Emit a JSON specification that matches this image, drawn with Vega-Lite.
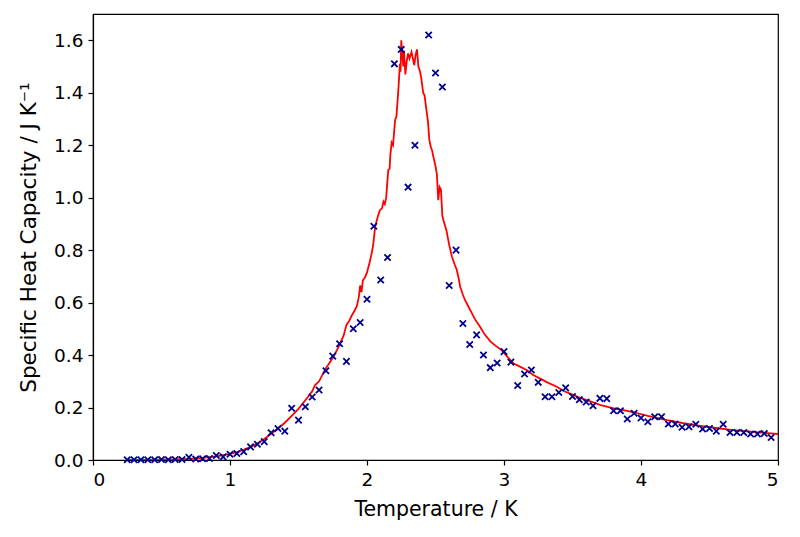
{
  "$schema": "https://vega.github.io/schema/vega-lite/v6.json",
  "width": 685,
  "height": 446,
  "autosize": {"type": "none"},
  "padding": {"left": 93, "top": 14, "right": 22, "bottom": 77},
  "background": "white",
  "config": {
    "view": {"stroke": "black", "strokeWidth": 1.2},
    "axis": {
      "grid": false,
      "domainColor": "black",
      "domainWidth": 1.2,
      "tickColor": "black",
      "tickWidth": 1.2,
      "tickSize": 5,
      "labelColor": "black",
      "labelFont": "DejaVu Sans",
      "labelFontSize": 18.5,
      "labelPadding": 5,
      "titleFont": "DejaVu Sans",
      "titleFontSize": 20.5,
      "titleFontWeight": "normal",
      "titleColor": "black"
    }
  },
  "datasets": {
    "curve": [
      {"T": 0.25, "C": 0.000}, {"T": 0.4, "C": 0.000}, {"T": 0.5, "C": 0.001}, {"T": 0.6, "C": 0.002},
      {"T": 0.7, "C": 0.004}, {"T": 0.8, "C": 0.008}, {"T": 0.9, "C": 0.014}, {"T": 1.0, "C": 0.023},
      {"T": 1.05, "C": 0.030}, {"T": 1.1, "C": 0.039}, {"T": 1.15, "C": 0.050}, {"T": 1.2, "C": 0.063},
      {"T": 1.25, "C": 0.080}, {"T": 1.3, "C": 0.100}, {"T": 1.35, "C": 0.120}, {"T": 1.4, "C": 0.142},
      {"T": 1.45, "C": 0.168}, {"T": 1.5, "C": 0.195}, {"T": 1.55, "C": 0.228}, {"T": 1.6, "C": 0.262},
      {"T": 1.62, "C": 0.285}, {"T": 1.65, "C": 0.300}, {"T": 1.7, "C": 0.350}, {"T": 1.72, "C": 0.365},
      {"T": 1.75, "C": 0.390}, {"T": 1.78, "C": 0.418}, {"T": 1.8, "C": 0.440}, {"T": 1.83, "C": 0.475},
      {"T": 1.85, "C": 0.515}, {"T": 1.87, "C": 0.530}, {"T": 1.89, "C": 0.552}, {"T": 1.91, "C": 0.570},
      {"T": 1.925, "C": 0.585}, {"T": 1.94, "C": 0.620}, {"T": 1.95, "C": 0.665}, {"T": 1.96, "C": 0.640},
      {"T": 1.97, "C": 0.685}, {"T": 1.985, "C": 0.695}, {"T": 2.0, "C": 0.715}, {"T": 2.01, "C": 0.735},
      {"T": 2.02, "C": 0.755}, {"T": 2.035, "C": 0.79}, {"T": 2.045, "C": 0.82}, {"T": 2.06, "C": 0.89},
      {"T": 2.07, "C": 0.91}, {"T": 2.08, "C": 0.93}, {"T": 2.095, "C": 0.952}, {"T": 2.11, "C": 0.96},
      {"T": 2.12, "C": 0.985}, {"T": 2.13, "C": 0.975}, {"T": 2.14, "C": 1.0}, {"T": 2.155, "C": 1.105},
      {"T": 2.165, "C": 1.11}, {"T": 2.17, "C": 1.16}, {"T": 2.18, "C": 1.21}, {"T": 2.19, "C": 1.20},
      {"T": 2.205, "C": 1.295}, {"T": 2.215, "C": 1.31}, {"T": 2.23, "C": 1.42}, {"T": 2.24, "C": 1.51},
      {"T": 2.245, "C": 1.48}, {"T": 2.25, "C": 1.60}, {"T": 2.26, "C": 1.53}, {"T": 2.265, "C": 1.50},
      {"T": 2.27, "C": 1.56}, {"T": 2.28, "C": 1.47}, {"T": 2.29, "C": 1.52}, {"T": 2.30, "C": 1.55},
      {"T": 2.31, "C": 1.53}, {"T": 2.325, "C": 1.555}, {"T": 2.335, "C": 1.53}, {"T": 2.345, "C": 1.505},
      {"T": 2.355, "C": 1.545}, {"T": 2.365, "C": 1.565}, {"T": 2.375, "C": 1.50}, {"T": 2.385, "C": 1.485},
      {"T": 2.395, "C": 1.46}, {"T": 2.41, "C": 1.40}, {"T": 2.42, "C": 1.39}, {"T": 2.435, "C": 1.33},
      {"T": 2.445, "C": 1.29}, {"T": 2.455, "C": 1.22}, {"T": 2.465, "C": 1.195}, {"T": 2.475, "C": 1.18},
      {"T": 2.485, "C": 1.155}, {"T": 2.5, "C": 1.12}, {"T": 2.51, "C": 1.09}, {"T": 2.52, "C": 0.99},
      {"T": 2.53, "C": 1.04}, {"T": 2.54, "C": 1.03}, {"T": 2.55, "C": 0.93}, {"T": 2.56, "C": 0.91},
      {"T": 2.58, "C": 0.875}, {"T": 2.6, "C": 0.82}, {"T": 2.62, "C": 0.775}, {"T": 2.64, "C": 0.745},
      {"T": 2.655, "C": 0.725}, {"T": 2.67, "C": 0.69}, {"T": 2.68, "C": 0.66}, {"T": 2.7, "C": 0.63},
      {"T": 2.715, "C": 0.61}, {"T": 2.74, "C": 0.585}, {"T": 2.765, "C": 0.56}, {"T": 2.79, "C": 0.535},
      {"T": 2.825, "C": 0.508}, {"T": 2.86, "C": 0.478}, {"T": 2.9, "C": 0.452}, {"T": 2.94, "C": 0.435},
      {"T": 2.985, "C": 0.418}, {"T": 3.03, "C": 0.39}, {"T": 3.07, "C": 0.368}, {"T": 3.12, "C": 0.355},
      {"T": 3.165, "C": 0.343}, {"T": 3.21, "C": 0.325}, {"T": 3.26, "C": 0.311}, {"T": 3.32, "C": 0.295},
      {"T": 3.385, "C": 0.279}, {"T": 3.44, "C": 0.262}, {"T": 3.505, "C": 0.248}, {"T": 3.55, "C": 0.238},
      {"T": 3.6, "C": 0.229}, {"T": 3.65, "C": 0.220}, {"T": 3.7, "C": 0.210}, {"T": 3.8, "C": 0.197},
      {"T": 3.9, "C": 0.187}, {"T": 3.945, "C": 0.182}, {"T": 4.05, "C": 0.168}, {"T": 4.19, "C": 0.152},
      {"T": 4.3, "C": 0.141}, {"T": 4.43, "C": 0.130}, {"T": 4.55, "C": 0.122}, {"T": 4.67, "C": 0.114},
      {"T": 4.8, "C": 0.108}, {"T": 4.9, "C": 0.103}, {"T": 5.0, "C": 0.099}
    ],
    "points": [
      {"T": 0.25, "C": 0.001}, {"T": 0.30, "C": 0.001}, {"T": 0.35, "C": 0.001}, {"T": 0.40, "C": 0.001},
      {"T": 0.45, "C": 0.001}, {"T": 0.50, "C": 0.002}, {"T": 0.55, "C": 0.001}, {"T": 0.60, "C": 0.002},
      {"T": 0.65, "C": 0.002}, {"T": 0.70, "C": 0.010}, {"T": 0.75, "C": 0.004}, {"T": 0.80, "C": 0.005},
      {"T": 0.85, "C": 0.006}, {"T": 0.90, "C": 0.017}, {"T": 0.95, "C": 0.012}, {"T": 1.00, "C": 0.022},
      {"T": 1.05, "C": 0.025}, {"T": 1.10, "C": 0.032}, {"T": 1.15, "C": 0.050}, {"T": 1.20, "C": 0.060},
      {"T": 1.25, "C": 0.070}, {"T": 1.30, "C": 0.104}, {"T": 1.35, "C": 0.120}, {"T": 1.40, "C": 0.110},
      {"T": 1.45, "C": 0.197}, {"T": 1.50, "C": 0.152}, {"T": 1.55, "C": 0.203}, {"T": 1.60, "C": 0.240},
      {"T": 1.65, "C": 0.267}, {"T": 1.70, "C": 0.340}, {"T": 1.75, "C": 0.396}, {"T": 1.80, "C": 0.443},
      {"T": 1.85, "C": 0.376}, {"T": 1.90, "C": 0.500}, {"T": 1.95, "C": 0.524}, {"T": 2.00, "C": 0.613},
      {"T": 2.05, "C": 0.891}, {"T": 2.10, "C": 0.686}, {"T": 2.15, "C": 0.772}, {"T": 2.20, "C": 1.510},
      {"T": 2.25, "C": 1.565}, {"T": 2.30, "C": 1.040}, {"T": 2.35, "C": 1.200}, {"T": 2.45, "C": 1.620},
      {"T": 2.50, "C": 1.475}, {"T": 2.55, "C": 1.422}, {"T": 2.60, "C": 0.665}, {"T": 2.65, "C": 0.800},
      {"T": 2.70, "C": 0.520}, {"T": 2.75, "C": 0.440}, {"T": 2.80, "C": 0.477}, {"T": 2.85, "C": 0.400},
      {"T": 2.90, "C": 0.352}, {"T": 2.95, "C": 0.370}, {"T": 3.00, "C": 0.413}, {"T": 3.05, "C": 0.373},
      {"T": 3.10, "C": 0.284}, {"T": 3.15, "C": 0.328}, {"T": 3.20, "C": 0.343}, {"T": 3.25, "C": 0.296},
      {"T": 3.30, "C": 0.241}, {"T": 3.35, "C": 0.241}, {"T": 3.40, "C": 0.257}, {"T": 3.45, "C": 0.275},
      {"T": 3.50, "C": 0.242}, {"T": 3.55, "C": 0.230}, {"T": 3.60, "C": 0.221}, {"T": 3.65, "C": 0.207},
      {"T": 3.70, "C": 0.235}, {"T": 3.75, "C": 0.234}, {"T": 3.80, "C": 0.188}, {"T": 3.85, "C": 0.188},
      {"T": 3.90, "C": 0.156}, {"T": 3.95, "C": 0.178}, {"T": 4.00, "C": 0.160}, {"T": 4.05, "C": 0.146},
      {"T": 4.10, "C": 0.165}, {"T": 4.15, "C": 0.165}, {"T": 4.20, "C": 0.137}, {"T": 4.25, "C": 0.137},
      {"T": 4.30, "C": 0.125}, {"T": 4.35, "C": 0.127}, {"T": 4.40, "C": 0.136}, {"T": 4.45, "C": 0.118},
      {"T": 4.50, "C": 0.120}, {"T": 4.55, "C": 0.110}, {"T": 4.60, "C": 0.136}, {"T": 4.65, "C": 0.105},
      {"T": 4.70, "C": 0.105}, {"T": 4.75, "C": 0.105}, {"T": 4.80, "C": 0.099}, {"T": 4.85, "C": 0.099},
      {"T": 4.90, "C": 0.101}, {"T": 4.95, "C": 0.086}
    ]
  },
  "encoding": {
    "x": {
      "field": "T", "type": "quantitative",
      "scale": {"domain": [0, 5], "nice": false},
      "axis": {"values": [0, 1, 2, 3, 4, 5], "format": "d", "title": "Temperature / K", "titlePadding": 11}
    },
    "y": {
      "field": "C", "type": "quantitative",
      "scale": {"domain": [0, 1.7], "nice": false},
      "axis": {"values": [0, 0.2, 0.4, 0.6, 0.8, 1.0, 1.2, 1.4, 1.6], "format": ".1f", "title": "Specific Heat Capacity / J K⁻¹", "titlePadding": 13, "titleFontSize": 21.5}
    }
  },
  "layer": [
    {
      "data": {"name": "curve"},
      "mark": {"type": "line", "color": "red", "strokeWidth": 1.8, "clip": true}
    },
    {
      "data": {"name": "points"},
      "mark": {"type": "point", "shape": "M-1,-1L1,1M-1,1L1,-1", "size": 40, "color": "#00008b", "strokeWidth": 1.8, "opacity": 1, "filled": false}
    }
  ]
}
